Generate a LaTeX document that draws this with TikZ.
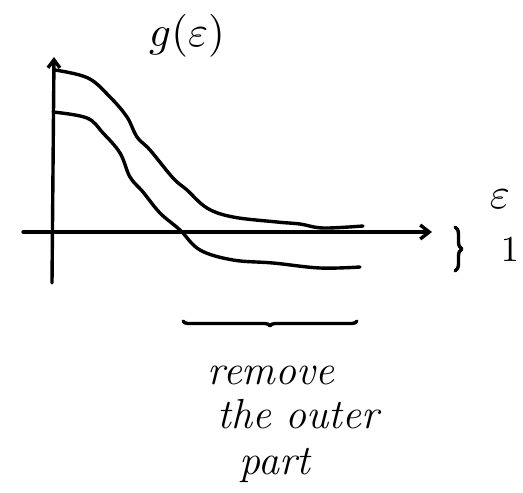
\documentclass[tikz,border=0pt]{standalone}
\usetikzlibrary{arrows.meta,decorations.pathreplacing}
\begin{document}
\begin{tikzpicture}[x=1pt,y=-1pt,
  stroke/.style={line width=3.4pt,line cap=round,line join=round,black},
  lbl/.style={inner sep=0pt,scale=4.3},
  note/.style={inner sep=0pt,anchor=base,font=\itshape\fontsize{42}{46}\selectfont}]
\useasboundingbox (0,0) rectangle (523,493);
\coordinate (ybot) at (52,283);
\coordinate (ytop) at (54,57);
\coordinate (xleft) at (23,232);
\coordinate (xright) at (432,232);
\draw[stroke,-{Straight Barb[length=8pt,width=12pt]}] (ybot) -- (ytop);
\draw[stroke,-{Straight Barb[length=9pt,width=14pt]}] (xleft) -- (xright);
% upper curve
\draw[stroke] plot[smooth,tension=0.6] coordinates {(55,70) (88,78) (110,97) (127,117) (137,137) (150,150) (173,178) (187,190) (207,208) (233,217) (277,222) (300,224) (323,228) (363,226)};
% lower curve
\draw[stroke] plot[smooth,tension=0.6] coordinates {(53,112) (87,118) (103,133) (120,153) (130,177) (143,192) (160,213) (180,230) (200,250) (233,260) (273,263) (320,268) (360,267)};
\node[lbl] (g) at (187,36) {$g(\varepsilon)$};
\node[lbl] (eps) at (500,199) {$\varepsilon$};
\coordinate (b1) at (455,227);
\coordinate (b2) at (455,271);
\draw[stroke,decorate,decoration={brace,amplitude=7pt}] (b1) -- (b2);
\node[lbl,scale=0.85] (one) at (510,250) {$1$};
\coordinate (c1) at (357,321);
\coordinate (c2) at (183,321);
\draw[stroke,decorate,decoration={brace,amplitude=5pt}] (c1) -- (c2);
\node[note] (t1) at (271,384) {remove};
\node[note] (t2) at (298,428) {the outer};
\node[note] (t3) at (275,474) {part};
\end{tikzpicture}
\end{document}
